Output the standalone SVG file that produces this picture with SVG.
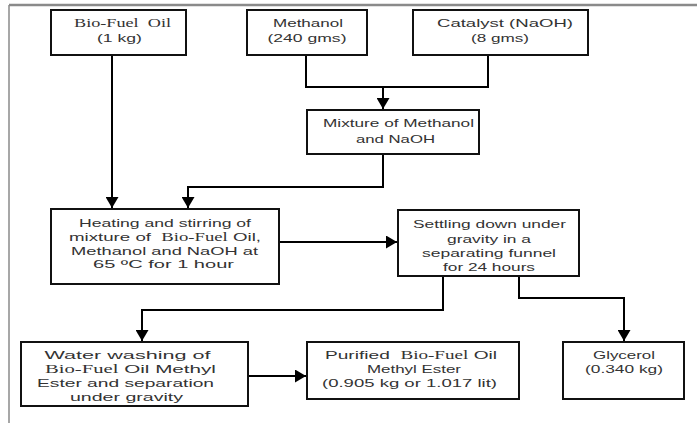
<svg xmlns="http://www.w3.org/2000/svg" width="698" height="423" viewBox="0 0 698 423">
<defs>
<marker id="arr" markerUnits="userSpaceOnUse" markerWidth="13" markerHeight="13" refX="11" refY="6.5" orient="auto">
<path d="M0,0 L11,6.5 L0,13 z" fill="#000"/>
</marker>
<style>
.box{fill:#fff;stroke:#111;stroke-width:2}
.t{font-family:"Liberation Sans",Arial,sans-serif;font-size:11.5px;fill:#333;text-anchor:middle;white-space:pre}
.s{font-family:"Liberation Serif","Times New Roman",serif}
.c{fill:none;stroke:#000;stroke-width:2}
.frame{stroke:#8a8a8a;fill:none}
</style>
</defs>
<rect width="698" height="423" fill="#fff"/>
<g id="frame">
<line class="frame" x1="9" y1="5" x2="697" y2="5" stroke-width="2.5"/>
<line class="frame" x1="9" y1="5" x2="9" y2="423" stroke-width="1.5"/>
</g>
<g id="connectors">
<path class="c" d="M112,55 V208" marker-end="url(#arr)"/>
<path class="c" d="M306,55 V87 H488 V55"/>
<path class="c" d="M383,87 V109" marker-end="url(#arr)"/>
<path class="c" d="M383,154 V187 H188 V208" marker-end="url(#arr)"/>
<path class="c" d="M279,242 H397" marker-end="url(#arr)"/>
<path class="c" d="M443,276 V310 H142 V341" marker-end="url(#arr)"/>
<path class="c" d="M519,276 V298 H624 V341" marker-end="url(#arr)"/>
<path class="c" d="M248,376 H306" marker-end="url(#arr)"/>
</g>
<g id="biofuel">
<rect class="box" x="51" y="10" width="135" height="45"/>
<text class="t s" x="122.5" y="27" textLength="97" lengthAdjust="spacingAndGlyphs">Bio-Fuel  Oil</text>
<text class="t" x="119.5" y="42" textLength="45" lengthAdjust="spacingAndGlyphs">(1 kg)</text>
</g>
<g id="methanol">
<rect class="box" x="247" y="10" width="120" height="45"/>
<text class="t" x="308" y="27" textLength="70" lengthAdjust="spacingAndGlyphs">Methanol</text>
<text class="t" x="307" y="42" textLength="79" lengthAdjust="spacingAndGlyphs">(240 gms)</text>
</g>
<g id="catalyst">
<rect class="box" x="413" y="10" width="175" height="45"/>
<text class="t" x="505" y="27" textLength="136" lengthAdjust="spacingAndGlyphs">Catalyst (NaOH)</text>
<text class="t" x="500" y="42" textLength="58" lengthAdjust="spacingAndGlyphs">(8 gms)</text>
</g>
<g id="mixture">
<rect class="box" x="307" y="110" width="172" height="44"/>
<text class="t" x="398.5" y="127" textLength="151" lengthAdjust="spacingAndGlyphs">Mixture of Methanol</text>
<text class="t" x="395.5" y="143" textLength="79" lengthAdjust="spacingAndGlyphs">and NaOH</text>
</g>
<g id="heating">
<rect class="box" x="51" y="209" width="228" height="75"/>
<text class="t" x="165" y="227" textLength="172" lengthAdjust="spacingAndGlyphs">Heating and stirring of</text>
<text class="t" x="165" y="241" textLength="192" lengthAdjust="spacingAndGlyphs">mixture of  <tspan class="s">Bio-Fuel</tspan> Oil,</text>
<text class="t" x="164.5" y="254.5" textLength="187" lengthAdjust="spacingAndGlyphs">Methanol and NaOH at</text>
<text class="t" x="163.5" y="268" textLength="141" lengthAdjust="spacingAndGlyphs">65 ºC for 1 hour</text>
</g>
<g id="settling">
<rect class="box" x="398" y="210" width="181" height="66"/>
<text class="t" x="489.5" y="228" textLength="153" lengthAdjust="spacingAndGlyphs">Settling down under</text>
<text class="t" x="489" y="242.5" textLength="84" lengthAdjust="spacingAndGlyphs">gravity in a</text>
<text class="t" x="489" y="257" textLength="134" lengthAdjust="spacingAndGlyphs">separating funnel</text>
<text class="t" x="489" y="271" textLength="92" lengthAdjust="spacingAndGlyphs">for 24 hours</text>
</g>
<g id="washing">
<rect class="box" x="21" y="342" width="227" height="64"/>
<text class="t" x="127.5" y="359" textLength="166" lengthAdjust="spacingAndGlyphs">Water washing of</text>
<text class="t" x="130.5" y="373" textLength="171" lengthAdjust="spacingAndGlyphs"><tspan class="s">Bio-Fuel</tspan> Oil Methyl</text>
<text class="t" x="125.5" y="387" textLength="177" lengthAdjust="spacingAndGlyphs">Ester and separation</text>
<text class="t" x="126.5" y="401" textLength="113" lengthAdjust="spacingAndGlyphs">under gravity</text>
</g>
<g id="purified">
<rect class="box" x="307" y="342" width="212" height="57"/>
<text class="t" x="411" y="359" textLength="172" lengthAdjust="spacingAndGlyphs">Purified  <tspan class="s">Bio-Fuel</tspan> Oil</text>
<text class="t" x="414" y="373" textLength="94" lengthAdjust="spacingAndGlyphs">Methyl Ester</text>
<text class="t" x="409.5" y="387" textLength="175" lengthAdjust="spacingAndGlyphs">(0.905 kg or 1.017 lit)</text>
</g>
<g id="glycerol">
<rect class="box" x="563" y="342" width="121" height="57"/>
<text class="t" x="624" y="359" textLength="62" lengthAdjust="spacingAndGlyphs">Glycerol</text>
<text class="t" x="624" y="373" textLength="78" lengthAdjust="spacingAndGlyphs">(0.340 kg)</text>
</g>
</svg>
